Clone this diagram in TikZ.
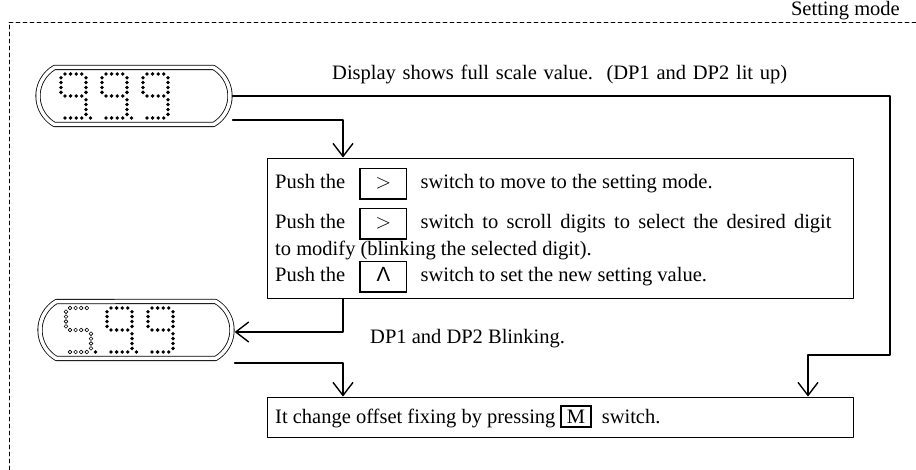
\documentclass[tikz,border=0pt]{standalone}
\usepackage{fontspec}
\setmainfont{Liberation Serif}
\setsansfont{Liberation Sans}
\usetikzlibrary{arrows.meta,shapes.misc}

\tikzset{
  disp/.style={rounded rectangle, rounded rectangle arc length=120, draw, double, double distance=3.5pt,
    line width=0.8pt, minimum width=192pt, minimum height=57pt, inner sep=0pt, outer sep=2.6pt},
  stepbox/.style={draw, line width=0.9pt, inner sep=0pt},
  flow/.style={line width=1.4pt, -{Straight Barb[length=13pt,width=20pt]}},
  txt/.style={anchor=base west, inner sep=0pt},
  on/.style={fill=black},
  off/.style={draw=black, line width=0.6pt},
}
\setlength{\fboxrule}{1.6pt}
\setlength{\fboxsep}{2pt}
\newcommand{\keybox}[2]{\fbox{\makebox[#1]{\strut#2}}}
\newcommand{\mkey}[1]{{\setlength{\fboxsep}{3pt}\fbox{\makebox[22pt]{#1}}}}

% dots of one segment: style, x, y
\newcommand{\hsegdots}[3]{\foreach \i in {0,...,3} \path[#1] (#2+4+5.6*\i,#3) circle (1.9pt);}
\newcommand{\vsegdots}[3]{\foreach \j in {0,...,3} \path[#1] (#2,#3+3.7+4.9*\j) circle (1.9pt);}
% digits, top left corner
\newcommand{\ninedots}[2]{%
  \hsegdots{on}{#1}{#2}
  \vsegdots{on}{#1}{#2}
  \vsegdots{on}{#1+25}{#2}
  \hsegdots{on}{#1}{#2+22}
  \vsegdots{on}{#1+25}{#2+22}
  \hsegdots{on}{#1}{#2+44}}
\newcommand{\esdots}[2]{%
  \hsegdots{off}{#1}{#2}
  \vsegdots{off}{#1}{#2}
  \hsegdots{off}{#1}{#2+22}
  \vsegdots{off}{#1+25}{#2+22}
  \hsegdots{off}{#1}{#2+44}}
\newcommand{\dpdot}[2]{\fill (#1+29.5,#2+44) circle (1.9pt);}

\begin{document}
\begin{tikzpicture}[x=1pt, y=-1pt, font=\fontsize{20.5}{25}\selectfont, line join=round, line cap=round]
	\useasboundingbox (0,0) rectangle (916,470);
	\draw[line width=0.8pt, dash pattern=on 4pt off 3pt] (916,22) -| (9,470);
	\node[anchor=base east, inner sep=0pt] (mode) at (900,16) {Setting mode};
	% displays
	\node[disp] (dispA) at (134,96) {};
	\ninedots{61}{74} \dpdot{61}{74}
	\ninedots{102}{74} \dpdot{102}{74}
	\ninedots{143}{74}
	\node[disp] (dispB) at (136,330) {};
	\esdots{66}{308} \dpdot{66}{308}
	\ninedots{107}{308} \dpdot{107}{308}
	\ninedots{148}{308}
	% boxes
	\node[stepbox, minimum width=586pt, minimum height=140pt] (setbox) at (560,228) {};
	\node[stepbox, minimum width=586pt, minimum height=40pt] (lowbox) at (560,417) {};
	\node[txt] (head) at (332,80) {\makebox[455pt][s]{Display shows full scale value.\ \ (DP1 and DP2 lit up)}};
	\node[txt] (pA) at (275,189) {Push the\hspace{14pt}\keybox{41pt}{$>$}\hspace{8pt} switch to move to the setting mode.};
	\node[txt] (pB) at (275,229) {Push the\hspace{14pt}\keybox{41pt}{$>$}\hspace{8pt} \makebox[411pt][s]{switch to scroll digits to select the desired digit}};
	\node[txt] (pC) at (275,256) {to modify (blinking the selected digit).};
	\node[txt] (pD) at (275,282) {Push the\hspace{14pt}\keybox{41pt}{\sffamily Λ}\hspace{8pt} switch to set the new setting value.};
	\node[txt] (blink) at (370,344) {DP1 and DP2 Blinking.};
	\node[txt] (pE) at (275,423) {It change offset fixing by pressing\hspace{5pt}\mkey{M}\hspace{5pt} switch.};
	% connectors
	\coordinate (bendR) at (890,355);
	\draw[flow] (dispA.east) -| (bendR) -| ([xshift=248pt]lowbox.north);
	\draw[flow] ([yshift=-24pt]dispA.east) -| ([xshift=-217pt]setbox.north);
	\draw[flow] ([xshift=-217pt]setbox.south) |- ([yshift=-2pt]dispB.east);
	\draw[flow] ([yshift=-33pt]dispB.east) -| ([xshift=-217pt]lowbox.north);
\end{tikzpicture}
\end{document}
